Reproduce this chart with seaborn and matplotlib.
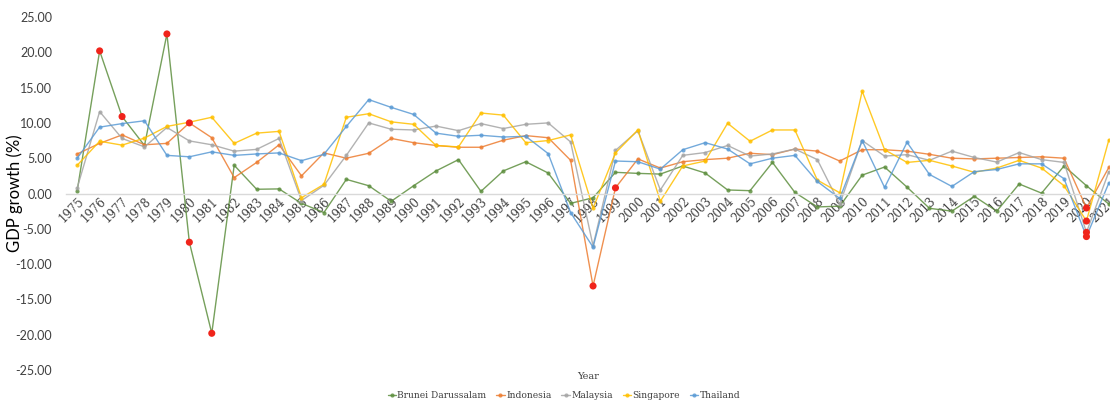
import numpy as np
import pandas as pd
import matplotlib
matplotlib.use("Agg")
import matplotlib.pyplot as plt
from matplotlib.ticker import FormatStrFormatter, FixedLocator
import seaborn as sns

years = list(range(1975, 2022))

brunei = [0.4, 20.2, 10.9, 6.8, 22.6, -6.9, -19.8, 4.0, 0.6, 0.65,
          -1.4, -2.7, 2.0, 1.1, -1.1, 1.1, 3.2, 4.8, 0.3, 3.2,
          4.5, 2.9, -1.4, -0.6, 3.0, 2.85, 2.75, 3.9, 2.9, 0.5,
          0.4, 4.4, 0.15, -1.9, -1.8, 2.6, 3.75, 0.9, -2.1, -2.5,
          -0.4, -2.5, 1.35, 0.05, 3.9, 1.1, -1.5]
indonesia = [5.6, 7.1, 8.3, 6.9, 7.1, 10.0, 7.9, 2.25, 4.4, 6.9,
             2.5, 5.75, 5.0, 5.7, 7.8, 7.2, 6.8, 6.55, 6.55, 7.55,
             8.2, 7.9, 4.7, -13.1, 0.8, 4.9, 3.6, 4.5, 4.8, 5.0,
             5.7, 5.5, 6.3, 6.0, 4.6, 6.2, 6.2, 6.0, 5.55, 5.0,
             4.9, 5.0, 5.1, 5.2, 5.0, -2.05, 3.7]
malaysia = [0.8, 11.6, 7.8, 6.6, 9.35, 7.45, 6.9, 6.0, 6.25, 7.8,
            -1.0, 1.15, 5.4, 10.0, 9.1, 9.0, 9.55, 8.9, 9.9, 9.2,
            9.8, 10.0, 7.3, -7.4, 6.1, 8.9, 0.5, 5.4, 5.8, 6.8,
            5.3, 5.6, 6.3, 4.8, -1.5, 7.5, 5.3, 5.5, 4.7, 6.0,
            5.1, 4.45, 5.8, 4.8, 4.4, -5.5, 3.1]
singapore = [4.0, 7.4, 6.85, 7.85, 9.5, 10.1, 10.8, 7.1, 8.55, 8.8,
             -0.6, 1.3, 10.8, 11.3, 10.15, 9.8, 6.8, 6.6, 11.4, 11.1,
             7.2, 7.5, 8.3, -2.1, 5.75, 9.0, -1.1, 3.9, 4.6, 9.95,
             7.4, 9.0, 9.0, 1.9, 0.1, 14.5, 6.2, 4.4, 4.7, 3.9,
             3.0, 3.6, 4.7, 3.6, 1.1, -3.9, 7.6]
thailand = [5.0, 9.4, 9.9, 10.3, 5.4, 5.2, 5.9, 5.4, 5.6, 5.75,
            4.65, 5.55, 9.5, 13.3, 12.2, 11.2, 8.55, 8.1, 8.25, 8.0,
            8.1, 5.65, -2.7, -7.6, 4.6, 4.5, 3.45, 6.2, 7.2, 6.3,
            4.2, 5.0, 5.4, 1.7, -0.7, 7.5, 0.85, 7.25, 2.7, 1.0,
            3.1, 3.4, 4.2, 4.2, 2.1, -6.1, 1.5]

countries = ["Brunei Darussalam", "Indonesia", "Malaysia", "Singapore", "Thailand"]
series = [brunei, indonesia, malaysia, singapore, thailand]
colors = ["#5e8f3f", "#ED7D31", "#A5A5A5", "#FFC000", "#5B9BD5"]

# years flagged with a red dot for each country
highlights = {
    "Brunei Darussalam": [1976, 1977, 1979, 1980, 1981],
    "Indonesia": [1980, 1998, 1999, 2020],
    "Malaysia": [2020],
    "Singapore": [2020],
    "Thailand": [2020],
}

y_ticks = [-25, -20, -15, -10, -5, 0, 5, 10, 15, 20, 25]

df = pd.DataFrame({"Year": years})
for name, vals in zip(countries, series):
    df[name] = vals
long_df = df.melt(id_vars="Year", var_name="Country", value_name="Growth")

sns.set_theme(style="white")
plt.rcParams["axes.unicode_minus"] = False

fig = plt.figure(figsize=(11.1, 4.0), dpi=100)
ax = fig.add_axes([66 / 1110, 30 / 400, 1044 / 1110, 353 / 400])

sns.lineplot(data=long_df, x="Year", y="Growth", hue="Country",
             hue_order=countries, palette=dict(zip(countries, colors)),
             marker="o", markersize=3, markeredgewidth=0, linewidth=1.0,
             alpha=0.85, ax=ax, legend=True)

hl = long_df[[yr in highlights[c] for yr, c in zip(long_df["Year"], long_df["Country"])]]
sns.scatterplot(data=hl, x="Year", y="Growth", color="#f0241b", s=26,
                edgecolor="none", zorder=5, ax=ax, legend=False)

ax.set_xlim(1974.5, 2021.05)
ax.set_ylim(-25, 25)
ax.yaxis.set_major_locator(FixedLocator(y_ticks))
ax.yaxis.set_major_formatter(FormatStrFormatter("%.2f"))
ax.xaxis.set_major_locator(FixedLocator(years))
ax.xaxis.set_major_formatter(FormatStrFormatter("%d"))

for side in ["top", "right", "left"]:
    ax.spines[side].set_visible(False)
ax.spines["bottom"].set_position(("data", 0))
ax.spines["bottom"].set_color("#d9d9d9")
ax.spines["bottom"].set_linewidth(1.0)
ax.tick_params(axis="y", length=0, pad=10, labelsize=9, labelcolor="#404040")
ax.tick_params(axis="x", length=0, pad=1, labelsize=8.5, labelcolor="#404040",
               labelrotation=45)
ax.grid(False)

for lbl in ax.get_xticklabels():
    lbl.set_horizontalalignment("right")
    lbl.set_rotation_mode("anchor")
    lbl.set_family("DejaVu Serif")
for lbl in ax.get_yticklabels():
    lbl.set_family("Lato")

ax.set_ylabel("GDP growth (%)", fontsize=12, family="Lato", color="#000000")
ax.yaxis.set_label_coords(-0.041, 0.5)
ax.set_xlabel("Year", fontsize=7, family="DejaVu Serif", color="#404040")
ax.xaxis.set_label_coords(0.5, -0.005)

handles, labels = ax.get_legend_handles_labels()
ax.legend_.remove()
leg = fig.legend(handles, labels, loc="lower center", ncol=5,
                 bbox_to_anchor=(0.508, -0.02), frameon=False,
                 prop={"family": "DejaVu Serif", "size": 6.6},
                 handlelength=0.9, columnspacing=1.1, handletextpad=0.15)
for t in leg.get_texts():
    t.set_color("#404040")

fig.savefig("out.png", dpi=100)
